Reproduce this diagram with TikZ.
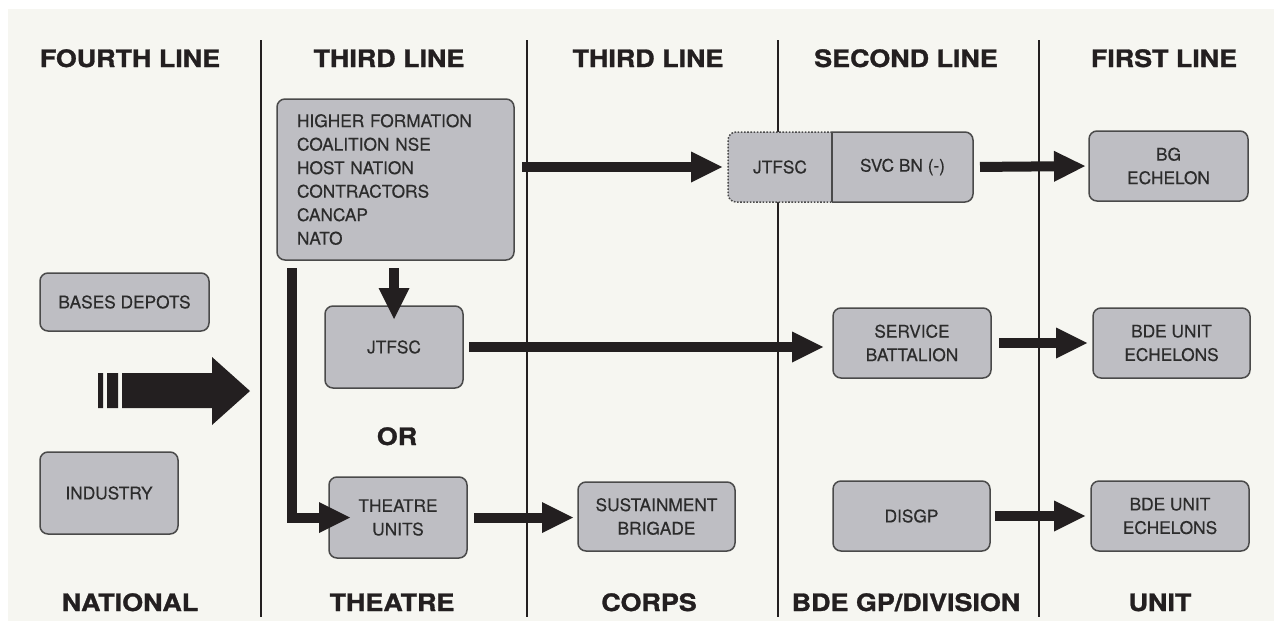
\documentclass[tikz,border=0pt]{standalone}
\usepackage{fontspec}
\setmainfont{TeX Gyre Heros}
\newfontfamily\headfont{TeX Gyre Heros}[FakeStretch=1.12, FakeBold=1.2]
\newfontfamily\boxfont{TeX Gyre Heros}[FakeBold=0.4]
\usetikzlibrary{arrows.meta,positioning,calc}

\definecolor{panel}{HTML}{F6F6F1}
\definecolor{boxgrey}{HTML}{BEBEC3}
\definecolor{boxline}{HTML}{4A4A4A}
\definecolor{ink}{HTML}{231F20}
\definecolor{boxtext}{HTML}{2C2C2C}

\tikzset{
  unitbox/.style={draw=boxline, fill=boxgrey, line width=1.5pt, rounded corners=8pt,
    outer sep=0pt, inner sep=0pt, align=center, text=boxtext,
    font=\boxfont\fontsize{17.3}{23.5}\selectfont},
  splitpart/.style={outer sep=0pt, inner sep=0pt, minimum height=70pt, text=boxtext,
    font=\boxfont\fontsize{17.3}{23.5}\selectfont},
  head/.style={anchor=base, text=ink, font=\headfont\bfseries\fontsize{24}{28}\selectfont},
  supply/.style={draw=ink, line width=10pt,
    -{Triangle[length=31pt 0 0, width=31pt 0 0, line width=0pt]}},
}

\begin{document}
\begin{tikzpicture}[x=1pt, y=-1pt]
  \useasboundingbox (0,0) rectangle (1276,621);
  \fill[panel] (8,9) rectangle (1274,621);
  \foreach \x in {261,527,778,1039}
    \draw[ink, line width=1.2pt] (\x,40) -- (\x,617);

  % column titles
  \foreach \x/\txt [count=\i] in {130/FOURTH LINE, 389/THIRD LINE, 648/THIRD LINE,
      906/SECOND LINE, 1164/FIRST LINE}
    \node (line\i) [head] at (\x,67) {\txt};
  \foreach \x/\txt [count=\i] in {130/NATIONAL, 392/THEATRE, 649/CORPS,
      906/{BDE GP/DIVISION}, 1160/UNIT}
    \node (level\i) [head] at (\x,611) {\txt};

  % fourth line
  \node (bases) [unitbox, minimum width=169pt, minimum height=58pt] at (124.5,302) {BASES DEPOTS};
  \node (industry) [unitbox, minimum width=138pt, minimum height=82pt] at (109,493) {INDUSTRY};
  \fill[ink] (98,373) rectangle (103,408) (107,373) rectangle (118,408)
    (122,373) -- (212,373) -- (212,357) -- (250,391) -- (212,425) -- (212,408) -- (122,408) -- cycle;

  % third line (theatre)
  \node (hq) [unitbox, minimum width=237pt, minimum height=161pt, text width=197pt, align=left]
    at (395.5,179.5) {HIGHER FORMATION\\COALITION NSE\\HOST NATION\\CONTRACTORS\\CANCAP\\NATO};
  \node (jtfsc) [unitbox, minimum width=138pt, minimum height=82pt] at (394,347) {JTFSC};
  \node (or) [head] at (397,445) {OR};
  \node (units) [unitbox, minimum width=138pt, minimum height=81pt] at (398,517.5) {THEATRE\\UNITS};

  % third line (corps)
  \node (sust) [unitbox, minimum width=157pt, minimum height=69pt] at (656.5,516.5) {SUSTAINMENT\\BRIGADE};

  % second line
  \fill[boxgrey, rounded corners=8pt] (728,132) rectangle (973,202);
  \node (jtfscB) [splitpart, minimum width=104pt] at (780,167) {JTFSC};
  \node (svcbn) [splitpart, minimum width=141pt, right=0pt of jtfscB] {SVC BN (-)};
  \draw[boxline, line width=1.5pt, dash pattern=on 1.6pt off 1.6pt, rounded corners=8pt]
    (jtfscB.north east) -- (jtfscB.north west) -- (jtfscB.south west) -- (jtfscB.south east);
  \draw[boxline, line width=1.5pt, rounded corners=8pt]
    (svcbn.north west) -- (svcbn.north east) -- (svcbn.south east) -- (svcbn.south west);
  \draw[boxline, line width=1.5pt] (svcbn.north west) -- (svcbn.south west);
  \node (sbn) [unitbox, minimum width=158pt, minimum height=70pt] at (912,343) {SERVICE\\BATTALION};
  \node (disgp) [unitbox, minimum width=157pt, minimum height=70pt] at (911.5,516) {DISGP};

  % first line
  \node (bg) [unitbox, minimum width=159pt, minimum height=70pt] at (1168.5,166) {BG\\ECHELON};
  \node (bde1) [unitbox, minimum width=157pt, minimum height=70pt] at (1171.5,343) {BDE UNIT\\ECHELONS};
  \node (bde2) [unitbox, minimum width=158pt, minimum height=70pt] at (1170,516) {BDE UNIT\\ECHELONS};

  % supply flows
  \coordinate (drop) at (292,268);
  \draw[supply, shorten <=8pt, shorten >=6pt] (hq.east |- jtfscB.west) -- (jtfscB.west);
  \draw[supply, shorten <=7pt, shorten >=4pt] (svcbn.east) -- (bg.west);
  \draw[supply, shorten <=8pt, shorten >=-13pt] (hq.south -| jtfsc.north) -- (jtfsc.north);
  \draw[supply, shorten >=-21pt] (drop) |- (units.west);
  \draw[supply, shorten <=6pt, shorten >=10pt] (jtfsc.east) -- (jtfsc.east -| sbn.west);
  \draw[supply, shorten <=8pt, shorten >=6pt] (sbn.east) -- (bde1.west);
  \draw[supply, shorten <=7pt, shorten >=5pt] (units.east) -- (units.east -| sust.west);
  \draw[supply, shorten <=5pt, shorten >=6pt] (disgp.east) -- (bde2.west);
\end{tikzpicture}
\end{document}
